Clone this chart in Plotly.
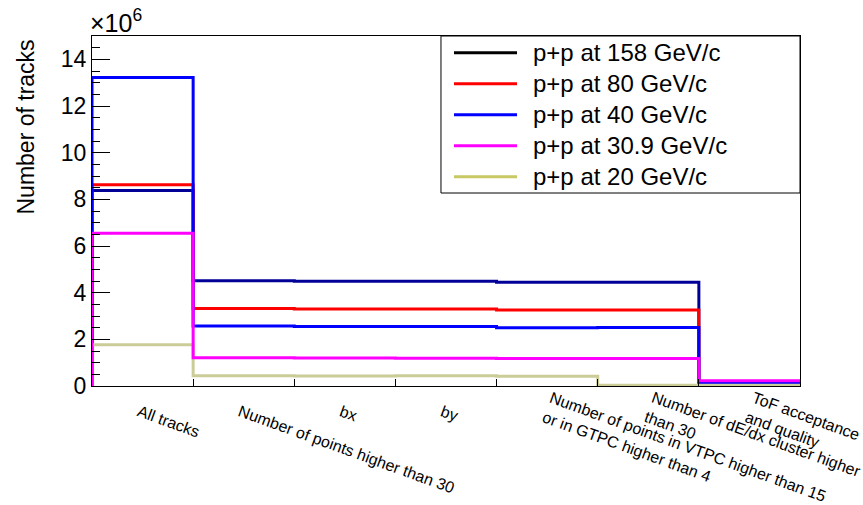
import numpy as np
import plotly.graph_objects as go

# Selection steps (one histogram bin per cut)
cuts = [
    "All tracks",
    "Number of points higher than 30",
    "bx",
    "by",
    "Number of points in VTPC higher than 15<br>or in GTPC higher than 4",
    "Number of dE/dx cluster higher<br>than 30",
    "ToF acceptance<br>and quality",
]

# Track counts after each cut, in units of 10^6
tracks_158 = [8.38, 4.51, 4.49, 4.49, 4.45, 4.45, 0.18]
tracks_80 = [8.63, 3.32, 3.30, 3.30, 3.26, 3.26, 0.17]
tracks_40 = [13.22, 2.57, 2.55, 2.55, 2.50, 2.51, 0.15]
tracks_309 = [6.55, 1.21, 1.20, 1.19, 1.18, 1.18, 0.23]
tracks_20 = [1.77, 0.44, 0.43, 0.44, 0.42, 0.03, 0.03]

# name, values, line colour, legend key colour
series = {
    "158": ("p+p at 158 GeV/c", tracks_158, "#000099", "#000000"),
    "80": ("p+p at 80 GeV/c", tracks_80, "#ff0000", "#ff0000"),
    "40": ("p+p at 40 GeV/c", tracks_40, "#0000ff", "#0000ff"),
    "30.9": ("p+p at 30.9 GeV/c", tracks_309, "#ff00ff", "#ff00ff"),
    "20": ("p+p at 20 GeV/c", tracks_20, "#cccc99", "#c8c864"),
}
draw_order = ["158", "80", "40", "20", "30.9"]
legend_order = ["158", "80", "40", "30.9", "20"]

edges = np.arange(len(cuts) + 1)
centers = edges[:-1] + 0.5

fig = go.Figure()
for key in draw_order:
    name, vals, color, _ = series[key]
    v = np.asarray(vals, dtype=float)
    x = np.concatenate([[edges[0]], edges])
    y = np.concatenate([[0.0], v, [v[-1]]])
    fig.add_trace(go.Scatter(
        x=x, y=y, mode="lines", name=name,
        line=dict(color=color, width=3, shape="hv"),
        showlegend=False, hoverinfo="skip",
    ))

font = "Liberation Sans, Arial, Helvetica, sans-serif"

# Boxed legend in the upper right corner of the frame
shapes = [dict(type="rect", xref="paper", yref="paper",
               x0=0.4929, x1=1.0, y0=0.5514, y1=1.0,
               line=dict(color="black", width=1), fillcolor="white",
               layer="above")]
annotations = []
row_top, row_step = 0.9523, 31 / 350
for i, key in enumerate(legend_order):
    name, _, _, key_color = series[key]
    yy = row_top - i * row_step
    shapes.append(dict(type="line", xref="paper", yref="paper",
                       x0=0.5113, x1=0.6003, y0=yy, y1=yy,
                       line=dict(color=key_color, width=3), layer="above"))
    annotations.append(dict(text=name, xref="paper", yref="paper",
                            x=0.6201, y=yy, xanchor="left", yanchor="middle",
                            showarrow=False,
                            font=dict(size=24, family=font, color="black")))

# Bin labels: slanted text starting at each bin centre; two-line labels
# sit a little higher so the block is centred on the baseline of the others
for c, label in zip(centers, cuts):
    two_lines = "<br>" in label
    annotations.append(dict(
        text=label, x=c, xref="x", y=0, yref="paper",
        xanchor="left", yanchor="top", align="left", textangle=20,
        showarrow=False, font=dict(size=16, family=font, color="black"),
        xshift=-9 if two_lines else -10, yshift=0 if two_lines else -14,
    ))

annotations += [
    dict(text="×10<sup>6</sup>", xref="paper", yref="paper", x=0, y=1,
         xanchor="left", yanchor="bottom", showarrow=False,
         font=dict(size=25, family=font), xshift=-4, yshift=-3),
    dict(text="Number of tracks", xref="paper", yref="paper", x=0, y=1,
         xanchor="center", yanchor="top", textangle=-90, showarrow=False,
         font=dict(size=23, family=font), xshift=-67, yshift=-2),
]

fig.update_layout(
    width=863, height=505,
    margin=dict(l=92, r=63, t=36, b=119, autoexpand=False),
    paper_bgcolor="white", plot_bgcolor="white",
    font=dict(family=font, color="black"),
    showlegend=False,
    shapes=shapes,
    annotations=annotations,
    xaxis=dict(
        range=[0, 7], showgrid=False, zeroline=False, automargin=False,
        showline=True, linecolor="black", linewidth=1, mirror=True,
        tickmode="array", tickvals=edges, showticklabels=False,
        ticks="inside", ticklen=7, tickcolor="black",
    ),
    yaxis=dict(
        range=[0, 15], showgrid=False, zeroline=False, automargin=False,
        showline=True, linecolor="black", linewidth=1, mirror=True,
        tickmode="linear", tick0=0, dtick=2,
        ticks="inside", ticklen=18, tickcolor="black",
        tickfont=dict(size=23, family=font),
        minor=dict(dtick=0.5, ticks="inside", ticklen=8, tickcolor="black"),
    ),
)

fig.write_html("out.html")
